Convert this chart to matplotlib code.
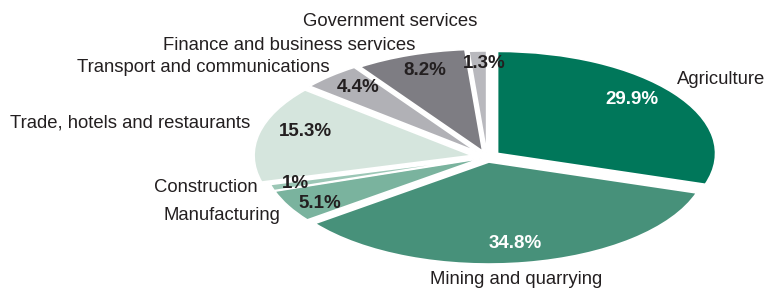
import matplotlib.pyplot as plt

plt.rcParams['font.family'] = ['Liberation Sans', 'DejaVu Sans']

sectors = ["Agriculture", "Mining and quarrying", "Manufacturing", "Construction",
           "Trade, hotels and restaurants", "Transport and communications",
           "Finance and business services", "Government services"]
shares = [29.9, 34.8, 5.1, 1.0, 15.3, 4.4, 8.2, 1.3]
pct_text = ["29.9%", "34.8%", "5.1%", "1%", "15.3%", "4.4%", "8.2%", "1.3%"]

colors = ["#00775a", "#47917a", "#7ab39e", "#9cc7b6", "#d5e5dd", "#b1b1b6", "#7e7d83", "#b8b8bd"]
explode = [0.06, 0.05, 0.03, 0.03, 0.07, 0.07, 0.06, 0.04]
pct_colors = ["white", "white", "#231f20", "#231f20", "#231f20", "#231f20", "#231f20", "#231f20"]

# text positions in pixels from top-left (x, y, ha)
label_pos = [(677, 80, "left"), (430, 280, "left"), (280, 215, "right"), (258, 188, "right"),
             (250, 123, "right"), (330, 68, "right"), (415, 45, "right"), (477, 22, "right")]
pct_pos = [(632, 99), (515, 244), (320, 203), (295, 184), (305, 132), (358, 87), (425, 71), (484, 64)]

W, H = 767, 290
fig = plt.figure(figsize=(W / 100, H / 100), dpi=100)
ax = fig.add_axes([0, 0, 1, 1])
ax.pie(shares, colors=colors, explode=explode, startangle=90, counterclock=False,
       wedgeprops=dict(linewidth=1.2, edgecolor="white"))
ax.set_aspect('auto')

# ellipse: centre and px per unit
cx, cy, sx, sy = 487, 157, 218, 102
ax.set_xlim(-cx / sx, (W - cx) / sx)
ax.set_ylim(-(H - cy) / sy, cy / sy)
ax.axis('off')

for name, (x, y, ha) in zip(sectors, label_pos):
    fig.text(x / W, 1 - y / H, name, ha=ha, va='center', fontsize=13.3, color="#231f20")
for t, (x, y), c in zip(pct_text, pct_pos, pct_colors):
    fig.text(x / W, 1 - y / H, t, ha='center', va='center', fontsize=13.5,
             fontweight='bold', color=c)

fig.savefig("out.png", dpi=100)
